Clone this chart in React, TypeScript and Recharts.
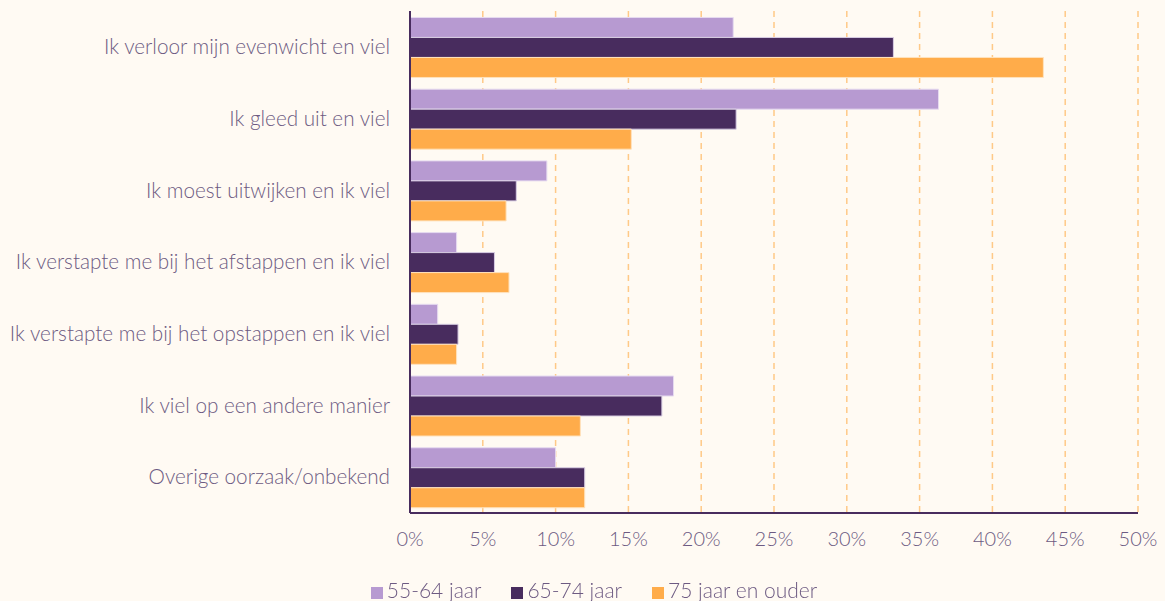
import React from "react";
import { Bar, BarChart, XAxis, YAxis, CartesianGrid, Legend } from "recharts";

const categories = [
  "Ik verloor mijn evenwicht en viel",
  "Ik gleed uit en viel",
  "Ik moest uitwijken en ik viel",
  "Ik verstapte me bij het afstappen en ik viel",
  "Ik verstapte me bij het opstappen en ik viel",
  "Ik viel op een andere manier",
  "Overige oorzaak/onbekend",
];

const age55to64 = [22.2, 36.3, 9.4, 3.2, 1.9, 18.1, 10.0];
const age65to74 = [33.2, 22.4, 7.3, 5.8, 3.3, 17.3, 12.0];
const age75plus = [43.5, 15.2, 6.6, 6.8, 3.2, 11.7, 12.0];

const xTicks = [0, 5, 10, 15, 20, 25, 30, 35, 40, 45, 50];

const data = categories.map((name, i) => ({
  name,
  a: age55to64[i],
  b: age65to74[i],
  c: age75plus[i],
}));

const textColor = "#6d5a82";
const font = "Lato, 'Open Sans', sans-serif";

export default function App() {
  return (
    <div
      style={{
        position: "fixed",
        top: 0,
        left: 0,
        width: 1165,
        height: 601,
        background: "#fffaf3",
        fontFamily: font,
      }}
    >
      <BarChart
        width={1165}
        height={601}
        data={data}
        layout="vertical"
        margin={{ top: 11, right: 27, left: 0, bottom: 0 }}
        barCategoryGap="9%"
        barGap={0}
      >
        <CartesianGrid
          horizontal={false}
          stroke="#ffc987"
          strokeDasharray="6 5"
          strokeWidth={1.5}
        />
        <XAxis
          type="number"
          domain={[0, 50]}
          ticks={xTicks}
          tickFormatter={(v) => `${v}%`}
          tickLine={false}
          axisLine={{ stroke: "#482c5e", strokeWidth: 2 }}
          tick={{ fill: textColor, fontSize: 20, fontWeight: 300 }}
          tickMargin={13}
          height={63}
        />
        <YAxis
          type="category"
          dataKey="name"
          width={410}
          tickLine={false}
          axisLine={{ stroke: "#482c5e", strokeWidth: 2 }}
          tick={{ fill: textColor, fontSize: 20.7, fontWeight: 300 }}
          tickMargin={14}
          interval={0}
        />
        <Legend
          verticalAlign="bottom"
          iconType="square"
          iconSize={12}
          wrapperStyle={{ fontSize: 21, fontWeight: 300, color: textColor, left: 40, bottom: -1 }}
          formatter={(value) => (
            <span style={{ color: textColor, marginRight: 20 }}>{value}</span>
          )}
        />
        <Bar dataKey="a" name="55-64 jaar" fill="#b79ad1" stroke="#e6dbf0" strokeWidth={1} isAnimationActive={false} />
        <Bar dataKey="b" name="65-74 jaar" fill="#482c5e" stroke="#d8cde3" strokeWidth={1} isAnimationActive={false} />
        <Bar dataKey="c" name="75 jaar en ouder" fill="#ffac4a" stroke="#ffe2bd" strokeWidth={1} isAnimationActive={false} />
      </BarChart>
    </div>
  );
}
